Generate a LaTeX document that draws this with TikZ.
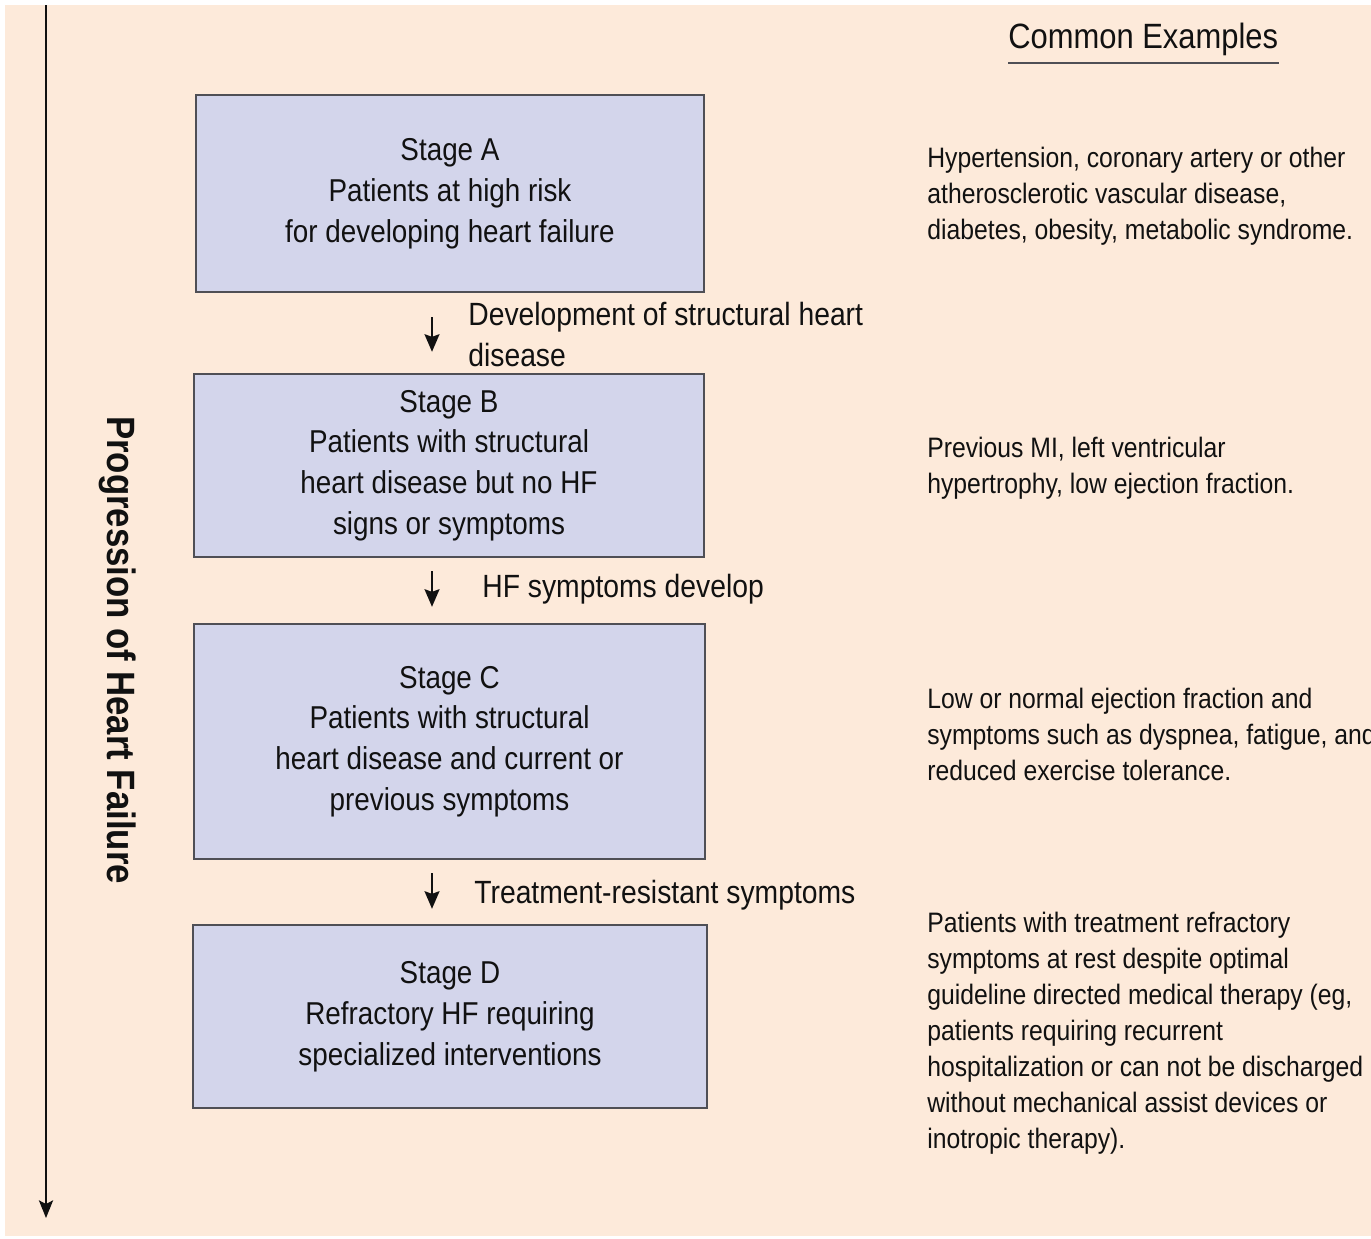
\documentclass[tikz,border=0pt]{standalone}
\usepackage{fontspec}
\setmainfont{Liberation Sans}[FakeStretch=0.88]
\usetikzlibrary{arrows.meta,calc}
\definecolor{peach}{HTML}{FDEADA}
\definecolor{stagefill}{HTML}{D3D5EB}
\definecolor{stageedge}{HTML}{4F4F55}
\definecolor{ink}{HTML}{111111}
\begin{document}
\begin{tikzpicture}[x=0.02cm,y=-0.02cm,
  stagebox/.style={draw=stageedge,line width=1.4pt,fill=stagefill,align=center,
    inner sep=0pt,text=ink,font=\fontsize{18}{23.2}\selectfont},
  % multi-line texts are placed by the baseline of their last line
  transition/.style={anchor=base west,inner sep=0pt,align=left,text=ink,
    font=\fontsize{18.3}{23.2}\selectfont},
  example/.style={anchor=base west,inner sep=0pt,align=left,text=ink,
    font=\fontsize{16}{20.4}\selectfont},
  steparrow/.style={draw=ink,line width=1.2pt,
    -{Stealth[length=10pt,width=8.5pt,inset=1.5pt]}},
]
\useasboundingbox (0,0) rectangle (1371,1238);
\clip (0,0) rectangle (1371,1238);
\fill[peach] (5,5) rectangle (1371,1235.5);

% progression axis on the left
\coordinate (pTop) at (46,5);
\coordinate (pEnd) at (46,1218);
\draw[line width=1.3pt,ink,-{Stealth[length=10pt,width=8pt,inset=2pt]}] (pTop) -- (pEnd);
\node[rotate=-90,font=\bfseries\fontsize{22.5}{26}\selectfont,text=ink,inner sep=0pt]
  (prog) at (118,650) {Progression of Heart Failure};

% stages
\node[stagebox,minimum width=10.16cm,minimum height=3.94cm] (A) at (450,193.5)
  {Stage A\\Patients at high risk\\for developing heart failure};
\node[stagebox,minimum width=10.2cm,minimum height=3.66cm] (B) at (449,465.5)
  {Stage B\\Patients with structural\\heart disease but no HF\\signs or symptoms};
\node[stagebox,minimum width=10.22cm,minimum height=4.7cm] (C) at (449.5,741.5)
  {Stage C\\Patients with structural\\heart disease and current or\\previous symptoms};
\node[stagebox,minimum width=10.28cm,minimum height=3.66cm] (D) at (450,1016.5)
  {Stage D\\Refractory HF requiring\\specialized interventions};

% transitions between stages
\draw[steparrow] ($(A.south)+(-18,24)$) -- ($(B.north)+(-17,-21)$);
\draw[steparrow] ($(B.south)+(-17,13)$) -- ($(C.north)+(-17.5,-16)$);
\draw[steparrow] ($(C.south)+(-17.5,13)$) -- ($(D.north)+(-18,-15)$);
\node[transition] (t1) at (468,366) {Development of structural heart\\disease};
\node[transition] (t2) at (482,597) {HF symptoms develop};
\node[transition] (t3) at (474,903) {Treatment-resistant symptoms};

% examples column
\node[anchor=base west,inner sep=0pt,text=ink,font=\fontsize{20}{24}\selectfont]
  (title) at (1008,48) {Common Examples};
\draw[stageedge,line width=1.6pt] ($(title.base west)+(0,15)$) -- ($(title.base east)+(0,15)$);

\node[example] (exA) at (927,239)
  {Hypertension, coronary artery or other\\atherosclerotic vascular disease,\\diabetes, obesity, metabolic syndrome.};
\node[example] (exB) at (927,493)
  {Previous MI, left ventricular\\hypertrophy, low ejection fraction.};
\node[example] (exC) at (927,780)
  {Low or normal ejection fraction and\\symptoms such as dyspnea, fatigue, and\\reduced exercise tolerance.};
\node[example] (exD) at (927,1148)
  {Patients with treatment refractory\\symptoms at rest despite optimal\\guideline directed medical therapy (eg,\\patients requiring recurrent\\hospitalization or can not be discharged\\without mechanical assist devices or\\inotropic therapy).};
\end{tikzpicture}
\end{document}
